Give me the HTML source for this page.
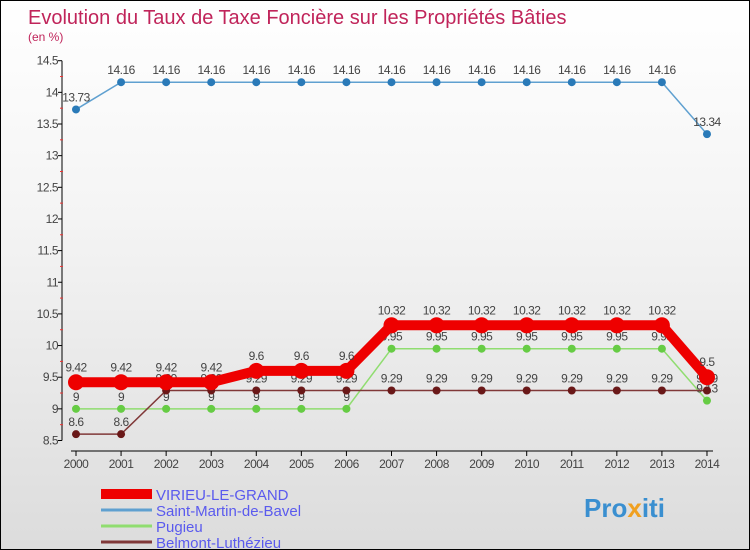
<!DOCTYPE html>
<html><head><meta charset="utf-8"><style>
body{margin:0}
#c{width:750px;height:550px;position:relative;overflow:hidden;box-sizing:border-box;border:1px solid #000;background:linear-gradient(#fff 0%,#f4f4f4 40%,#dcdcdc 100%);font-family:"Liberation Sans",sans-serif}
svg text{font-family:"Liberation Sans",sans-serif}
</style></head><body>
<div id="c">
<svg id="s" width="750" height="550">
<text x="27" y="23" font-size="20" fill="#c0245a">Evolution du Taux de Taxe Foncière sur les Propriétés Bâties</text>
<text x="27" y="40" font-size="12" fill="#c0245a">(en %)</text>
<g id="axes"></g><g id="series"></g><g id="legend"></g>
<text x="583" y="516" font-size="26" font-weight="bold" fill="#3a8fd0">Pro<tspan fill="#f0a020">x</tspan>iti</text>
</svg>
</div>
<script>
const years=[2000,2001,2002,2003,2004,2005,2006,2007,2008,2009,2010,2011,2012,2013,2014];
const virieu=[9.42,9.42,9.42,9.42,9.6,9.6,9.6,10.32,10.32,10.32,10.32,10.32,10.32,10.32,9.5];
const saintMartin=[13.73,14.16,14.16,14.16,14.16,14.16,14.16,14.16,14.16,14.16,14.16,14.16,14.16,14.16,13.34];
const pugieu=[9,9,9,9,9,9,9,9.95,9.95,9.95,9.95,9.95,9.95,9.95,9.13];
const belmont=[8.6,8.6,9.29,9.29,9.29,9.29,9.29,9.29,9.29,9.29,9.29,9.29,9.29,9.29,9.29];
const yTicks=[8.5,9,9.5,10,10.5,11,11.5,12,12.5,13,13.5,14,14.5];
const names=["VIRIEU-LE-GRAND","Saint-Martin-de-Bavel","Pugieu","Belmont-Luthézieu"];
const NS="http://www.w3.org/2000/svg";
const X=i=>75+i*45.07;
const Y=v=>439.5-(v-8.5)*63.3;
function mk(p,t,a){const e=document.createElementNS(NS,t);for(const k in a)e.setAttribute(k,a[k]);p.appendChild(e);return e;}
const ax=document.getElementById('axes');
let l=mk(ax,'line',{x1:61,y1:Y(14.5),x2:61,y2:Y(8.5),stroke:'#000'});


l=mk(ax,'line',{x1:70,y1:450,x2:712,y2:450,stroke:'#000'});


yTicks.forEach(v=>{
  mk(ax,'line',{x1:57,y1:Y(v),x2:61,y2:Y(v),stroke:'#000'});
  if(v<14.5)mk(ax,'line',{x1:59,y1:Y(v+0.25),x2:62,y2:Y(v+0.25),stroke:'#e33'});
  const t=mk(ax,'text',{x:57,y:Y(v)+4,'font-size':12,fill:'#444','text-anchor':'end','letter-spacing':'-0.5'});
  t.textContent=String(v);
  
  
});
years.forEach((y,i)=>{
  mk(ax,'line',{x1:X(i),y1:450,x2:X(i),y2:455,stroke:'#000'});
  const t=mk(ax,'text',{x:X(i),y:467,'font-size':12,fill:'#444','text-anchor':'middle','letter-spacing':'-0.5'});
  t.textContent=y;
  
  
});
const sg=document.getElementById('series');
const defs=[[saintMartin,'#5fa0d0','#2a7ab8',1.5,4,'saint-martin'],[pugieu,'#90dd70','#66cc44',1.5,4,'pugieu'],[belmont,'#803838','#6a1818',1.5,4,'belmont'],[virieu,'#ee0000','#ee0000',10,8,'virieu']];
defs.forEach(([d,lc,pc,w,r,n])=>{
  const p=mk(sg,'polyline',{points:d.map((v,i)=>X(i)+','+Y(v)).join(' '),fill:'none',stroke:lc,'stroke-width':w});
  
  
  d.forEach((v,i)=>{
    const c=mk(sg,'circle',{cx:X(i),cy:Y(v),r:r,fill:pc});
    
    
    const t=mk(sg,'text',{x:X(i),y:Y(v)-(n==='virieu'?11:8),'font-size':12,fill:'#444','text-anchor':'middle','letter-spacing':'-0.5'});
    t.textContent=String(v);
    
    
  });
});
const lg=document.getElementById('legend');
const lcol=['#ee0000','#5fa0d0','#90dd70','#803838'],lw=[10,3,3,3];
names.forEach((n,i)=>{
  const y=493+i*16;
  const s=mk(lg,'line',{x1:100,y1:y,x2:151,y2:y,stroke:lcol[i],'stroke-width':lw[i]});
  
  
  const t=mk(lg,'text',{x:155,y:y+6,'font-size':15,fill:'#5a5aee'});
  t.textContent=n;
  
  
});
</script>
</body></html>
